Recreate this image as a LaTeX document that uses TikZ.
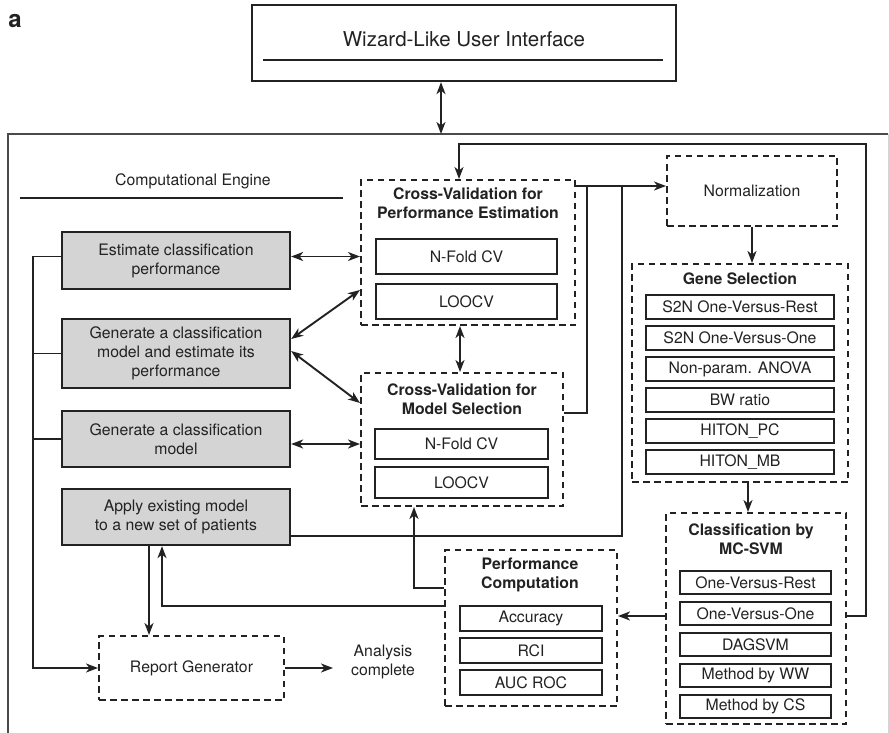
\documentclass[tikz,border=0pt]{standalone}
\usepackage{fontspec}
\setmainfont{TeX Gyre Heros}
\usetikzlibrary{arrows.meta,calc}
\definecolor{ink}{HTML}{222222}
\definecolor{txt}{HTML}{222222}
\definecolor{panel}{RGB}{212,212,212}
\definecolor{frame}{HTML}{4a4a4a}
\definecolor{faint}{HTML}{d4d4d4}

\begin{document}
\begin{tikzpicture}[x=1pt,y=-1pt,
  every node/.style={font=\fontsize{15.8}{19}\selectfont, text=txt},
  solidbox/.style={draw=ink, line width=2.3pt, inner sep=0pt, rectangle},
  itembox/.style={solidbox, fill=white},
  taskbox/.style={solidbox, fill=panel, align=center, minimum width=228},
  groupbox/.style={draw=ink, line width=2pt, dash pattern=on 6.5pt off 4.5pt, inner sep=0pt, rectangle},
  grouptitle/.style={font=\fontsize{15.8}{19}\selectfont\bfseries, align=center, inner sep=0pt},
  link/.style={draw=ink, line width=1.9pt},
  oneway/.style={link, -{Stealth[length=12pt,width=9pt,inset=3.5pt]}},
  twoway/.style={link, {Stealth[length=12pt,width=9pt,inset=3.5pt]}-{Stealth[length=12pt,width=9pt,inset=3.5pt]}},
]
\useasboundingbox (0,0) rectangle (889,733);

% panel letter
\node[font=\fontsize{24}{24}\selectfont\bfseries, inner sep=0pt] (letter) at (15,21.5) {a};

% user interface
\node[solidbox, minimum width=424, minimum height=76] (ui) at (464,43) {};
\node[font=\fontsize{20.5}{24}\selectfont] (uitext) at (464,39.5) {Wizard-Like User Interface};
\draw[ink, line width=1.7pt] ($(ui.south west)+(12,-22)$) -- ($(ui.south east)+(-14,-22)$);

% computational engine frame
\coordinate (engNW) at (8,134);
\coordinate (engNE) at (888,134);
\draw[frame, line width=1.8pt] (8,733) -- (engNW) -- (engNE);
\draw[faint, line width=1pt] (engNE) -- (888,733);
\node (engname) at (193,181.5) {Computational Engine};
\draw[ink, line width=1.5pt] (20,198) -- (343,198);
\coordinate (uiport) at (441,134);
\draw[twoway] (uiport |- ui.south) -- (uiport);

% tasks
\node[taskbox, minimum height=57] (est) at (176,260.5) {Estimate classification\\performance};
\node[taskbox, minimum height=69] (gen2) at (176,353.5) {Generate a classification\\model and estimate its\\performance};
\node[taskbox, minimum height=56] (gen) at (176,439) {Generate a classification\\model};
\node[taskbox, minimum height=56] (apply) at (176,517) {Apply existing model\\to a new set of patients};

% cross-validation for performance estimation
\node[groupbox, minimum width=214, minimum height=145] (cvpe) at (468,252.5) {};
\node[grouptitle] (cvpetitle) at (468,203.5) {Cross-Validation for\\Performance Estimation};
\node[itembox, minimum width=181, minimum height=35] (cvpe1) at (466.5,256.5) {N-Fold CV};
\node[itembox, minimum width=181, minimum height=35] (cvpe2) at (466.5,301.5) {LOOCV};

% cross-validation for model selection
\node[groupbox, minimum width=202, minimum height=133] (cvms) at (462,439.5) {};
\node[grouptitle] (cvmstitle) at (462,399.5) {Cross-Validation for\\Model Selection};
\node[itembox, minimum width=173, minimum height=30] (cvms1) at (461.5,444) {N-Fold CV};
\node[itembox, minimum width=173, minimum height=31] (cvms2) at (461.5,482.5) {LOOCV};

% normalization
\node[groupbox, minimum width=170, minimum height=70] (norm) at (752,191) {Normalization};

% gene selection
\node[groupbox, minimum width=216, minimum height=218] (gene) at (740,373) {};
\node[grouptitle] (genetitle) at (740,278.5) {Gene Selection};
\foreach \t [count=\i from 0] in {S2N One-Versus-Rest, S2N One-Versus-One, Non-param. ANOVA, BW ratio, HITON\_PC, HITON\_MB}
  \node[itembox, minimum width=188, minimum height=24] (gs\i) at (740,307+31*\i) {\t};

% classification
\node[groupbox, minimum width=180, minimum height=211] (svm) at (756,618.5) {};
\node[grouptitle] (svmtitle) at (751,539.5) {Classification by\\MC-SVM};
\foreach \t [count=\i from 0] in {One-Versus-Rest, One-Versus-One, DAGSVM, Method by WW, Method by CS}
  \node[itembox, minimum width=151, minimum height=23.5] (cl\i) at (755.5,582.5+31*\i) {\t};

% performance computation
\node[groupbox, minimum width=172, minimum height=156] (perf) at (531,628) {};
\node[grouptitle] (perftitle) at (530,575) {Performance\\Computation};
\node[itembox, minimum width=142, minimum height=25] (pm0) at (531,618.5) {Accuracy};
\node[itembox, minimum width=142, minimum height=25] (pm1) at (531,650.5) {RCI};
\node[itembox, minimum width=142, minimum height=25] (pm2) at (531,682.5) {AUC ROC};

% report generator
\node[groupbox, minimum width=185, minimum height=64] (report) at (191.5,668) {Report Generator};
\node[align=center, inner sep=0pt] (ana) at (383,661.5) {Analysis\\complete};
\coordinate (done) at (333,668);
\draw[oneway] (report.east) -- (done);

% task bus on the left
\coordinate (bus) at (33,0);
\draw[oneway] ($(est.west)+(0,-4)$) -| (bus |- report.west) -- (report.west);
\draw[link] (gen2.west) -- (gen2.west -| bus);
\draw[link] (gen.west) -- (gen.west -| bus);

% tasks to cross-validation
\draw[twoway] ($(est.east)+(0,-4)$) -- ($(est.east -| cvpe.west)+(0,-4)$);
\draw[twoway] ($(gen2.east)+(0,-14.5)$) -- ($(cvpe.west)+(0,37.5)$);
\draw[twoway] ($(gen2.east)+(0,-2.5)$) -- ($(cvms.west)+(0,-36.5)$);
\draw[twoway] ($(gen.east)+(0,5)$) -- ($(gen.east -| cvms.west)+(0,5)$);
\draw[twoway] ($(cvpe.south)+(-8,0)$) -- ($(cvpe.south |- cvms.north)+(-8,0)$);

% pipeline
\coordinate (nrmIn) at (0,186);
\draw[oneway] (nrmIn -| cvpe.east) -- (nrmIn -| norm.west);
\coordinate (msOut) at (587,413);
\draw[link] (msOut -| cvms.east) -- (msOut) -- (msOut |- nrmIn);
\coordinate (apOut) at (622,536);
\draw[link] (apOut -| apply.east) -- (apOut) -- (apOut |- nrmIn);
\draw[oneway] (norm.south) -- (norm.south |- gene.north);
\coordinate (gsArrow) at (748,0);
\draw[oneway] (gsArrow |- gene.south) -- (gsArrow |- svm.north);
\coordinate (svmOut) at (0,616);
\draw[oneway] (svmOut -| svm.west) -- (svmOut -| perf.east);
\coordinate (loopSE) at (866,616);
\coordinate (loopNW) at (459,144);
\draw[oneway] (loopSE -| svm.east) -- (loopSE) |- (loopNW) -- (loopNW |- cvpe.north);

% results back to tasks
\coordinate (pfUp) at (414,588);
\draw[oneway] (pfUp -| perf.west) -- (pfUp) -- (pfUp |- cvms.south);
\coordinate (pfBack) at (162,606);
\draw[oneway] (pfBack -| perf.west) -- (pfBack) -- (pfBack |- apply.south);
\coordinate (apDown) at (149,0);
\draw[oneway] (apDown |- apply.south) -- (apDown |- report.north);
\end{tikzpicture}
\end{document}
